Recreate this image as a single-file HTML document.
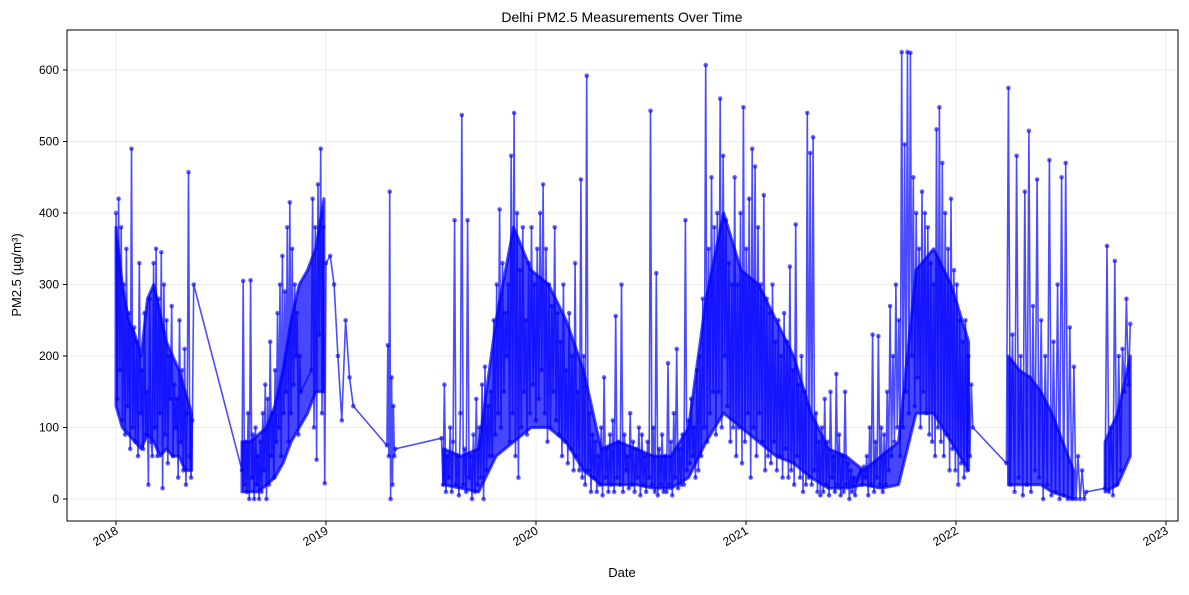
<!DOCTYPE html>
<html><head><meta charset="utf-8"><style>
html,body{margin:0;padding:0;background:#fff;}
svg text{font-family:"Liberation Sans","DejaVu Sans",sans-serif;fill:#000;}
</style></head><body>
<svg id="chart" width="1189" height="590" xmlns="http://www.w3.org/2000/svg">
<text x="622" y="22" font-size="14" text-anchor="middle">Delhi PM2.5 Measurements Over Time</text>
<g id="grid"></g>
<g id="bands"></g>
<g id="series"></g>
<rect x="67" y="30" width="1111" height="491" fill="none" stroke="#000" stroke-width="1"/>
<g id="axes"></g>
<text x="622" y="577" font-size="13" text-anchor="middle">Date</text>
<text transform="translate(21,275) rotate(-90)" font-size="13" text-anchor="middle">PM2.5 (µg/m³)</text>
</svg>
<script>
const yTicks=[0,100,200,300,400,500,600];
const xTicks=[2018,2019,2020,2021,2022,2023];
const xTickLabels=["2018","2019","2020","2021","2022","2023"];
const segStart=[2018.00,2018.60,2018.93,2019.02,2019.29,2019.55,2022.24,2022.71];
const segEnd=[2018.37,2018.88,2019.00,2019.13,2019.33,2022.08,2022.62,2022.83];
const seg1=[400,140,420,180,380,110,300,90,350,130,260,70,490,100,240,80,220,60,330,120,180,70,260,90,150,20,280,80,60,330,100,350,60,280,120,345,15,300,90,250,50,200,140,270,60,160,100,140,30,250,80,180,40,210,20,120,457,60,30,110,300];
const seg2=[40,305,20,80,10,120,0,306,30,90,0,100,20,60,0,80,10,120,40,160,0,140,20,220,60,120,30,180,80,260,100,300,60,340,120,290,150,380,80,415,120,350,160,300,200,260,90,200,150];
const seg3=[180,420,100,380,55,440,230,490,120,380,22,330];
const seg4=[340,300,200,110,250,170,130];
const seg5=[75,215,60,430,0,170,20,130,60,70];
const seg6=[85,20,160,10,60,30,
100,10,80,390,20,60,5,120,537,20,70,10,390,30,
60,0,90,10,140,20,100,30,160,0,185,40,130,60,
150,60,250,90,300,120,405,100,330,150,260,200,
300,80,480,120,540,60,400,30,320,100,380,150,
250,90,330,120,380,160,300,110,350,140,400,180,
440,120,350,80,300,100,270,150,380,110,260,90,
220,60,300,80,180,50,260,70,200,40,330,60,
150,40,447,30,200,20,592,40,120,10,90,30,
80,10,60,20,100,5,170,30,70,10,90,20,
110,10,256,30,80,20,300,10,90,40,60,15,
120,20,80,10,70,30,100,5,90,20,60,10,
80,30,543,20,100,10,316,5,70,20,90,10,
60,10,190,20,80,5,120,30,210,15,70,20,
90,20,390,40,110,50,140,60,100,30,180,40,
200,60,280,100,607,80,350,120,450,150,380,90,
400,150,560,100,480,200,390,130,330,80,300,100,
450,60,300,100,400,50,548,80,350,120,420,30,
490,100,465,60,380,120,300,80,425,40,280,60,
260,50,300,80,220,40,250,60,200,30,260,70,
220,30,325,40,180,20,384,60,160,30,200,10,
150,20,540,30,484,20,506,40,120,10,80,5,
100,10,140,20,80,5,150,30,60,10,175,20,
90,5,60,10,150,20,50,0,40,10,30,5,
25,30,35,40,20,45,30,
60,5,100,20,230,10,80,30,228,20,100,10,
90,20,150,40,270,60,200,80,300,100,250,60,
625,100,496,150,625,120,624,200,450,130,400,170,
350,100,430,150,400,120,380,90,330,80,300,60,
517,100,548,80,470,60,400,90,350,40,420,70,
320,40,300,20,250,50,220,30,250,40,200,60,160,100];
const seg7=[50,575,20,230,10,480,30,200,5,430,20,515,10,270,40,447,30,250,0,200,20,474,5,220,10,300,0,450,5,470,0,240,0,185,0,60,0,40,0,10];
const seg8=[15,354,10,100,5,333,20,200,40,210,150,280,160,245];
const segValues=[seg1,seg2,seg3,seg4,seg5,seg6,seg7,seg8];

// dense daily-reading envelope (typical low/high per period)
const bandStart=[2018.00,2018.60,2019.56,2022.25,2022.71];
const bandEnd=[2018.36,2018.99,2022.06,2022.56,2022.83];
const bandLo1=[130,100,90,80,70,90,80,60,70,60,60,40,40];
const bandHi1=[380,300,250,230,200,280,300,260,220,200,180,150,120];
const bandLo2=[10,10,10,20,30,50,80,100,120,150,150];
const bandHi2=[80,80,90,100,130,180,250,300,320,350,420];
const bandLo3=[20,15,10,60,80,100,100,80,40,20,20,20,15,15,30,80,120,100,80,60,50,30,15,15,20,15,20,120,120,80,40];
const bandHi3=[70,60,70,250,380,320,300,250,180,70,80,70,60,60,100,280,400,320,300,250,200,120,70,60,40,60,80,320,350,300,220];
const bandLo4=[20,20,20,20,10,5,0];
const bandHi4=[200,180,170,150,120,80,40];
const bandLo5=[10,20,60];
const bandHi5=[80,120,200];
const bandLos=[bandLo1,bandLo2,bandLo3,bandLo4,bandLo5];
const bandHis=[bandHi1,bandHi2,bandHi3,bandHi4,bandHi5];

const NS="http://www.w3.org/2000/svg";
const xS=t=>116+(t-2018)*210;
const yS=v=>499-v*0.715;
const grid=document.getElementById('grid'),axes=document.getElementById('axes'),series=document.getElementById('series'),bands=document.getElementById('bands');
function mk(tag,attrs,parent){const e=document.createElementNS(NS,tag);for(const k in attrs)e.setAttribute(k,attrs[k]);parent.appendChild(e);return e;}
yTicks.forEach(v=>{
  const y=yS(v);
  const g=mk('line',{x1:67,x2:1178,y1:y,y2:y,stroke:'#b0b0b0','stroke-opacity':0.3,'stroke-width':0.8},grid);
  
  
  const t=mk('line',{x1:63,x2:67,y1:y,y2:y,stroke:'#000'},axes);
  
  
  const l=mk('text',{x:59,y:y+4,'font-size':12,'text-anchor':'end'},axes);
  l.textContent=v;
  
  
});
xTicks.forEach((t,i)=>{
  const x=xS(t);
  const g=mk('line',{x1:x,x2:x,y1:30,y2:521,stroke:'#b0b0b0','stroke-opacity':0.3,'stroke-width':0.8},grid);
  
  
  const tk=mk('line',{x1:x,x2:x,y1:521,y2:525,stroke:'#000'},axes);
  
  
  const l=mk('text',{transform:`translate(${x+3},${533}) rotate(-30)`,'font-size':12,'text-anchor':'end'},axes);
  l.textContent=xTickLabels[i];
  
  
});
bandLos.forEach((lo,b)=>{
  const hi=bandHis[b],n=lo.length;
  const tt=i=>bandStart[b]+(n>1?(bandEnd[b]-bandStart[b])*i/(n-1):0);
  const top=hi.map((v,i)=>xS(tt(i)).toFixed(1)+','+yS(v).toFixed(1));
  const bot=lo.map((v,i)=>xS(tt(i)).toFixed(1)+','+yS(v).toFixed(1)).reverse();
  const p=mk('polygon',{points:top.concat(bot).join(' '),fill:'#0000ff','fill-opacity':0.72,stroke:'#0000ff','stroke-opacity':0.72,'stroke-width':3,'stroke-linejoin':'round'},bands);
  
  
});
const pts=[];
segValues.forEach((vals,s)=>{
  const n=vals.length;
  vals.forEach((v,i)=>{const t=segStart[s]+(n>1?(segEnd[s]-segStart[s])*i/(n-1):0);pts.push([xS(t),yS(v)]);});
});
const line=mk('polyline',{points:pts.map(p=>p[0].toFixed(1)+','+p[1].toFixed(1)).join(' '),fill:'none',stroke:'#0000ff','stroke-opacity':0.7,'stroke-width':1.6,'stroke-linejoin':'round'},series);


pts.forEach(p=>{
  const c=mk('circle',{cx:p[0].toFixed(1),cy:p[1].toFixed(1),r:2.3,fill:'#0000ff','fill-opacity':0.6},series);
  
  
});
</script>
</body></html>
